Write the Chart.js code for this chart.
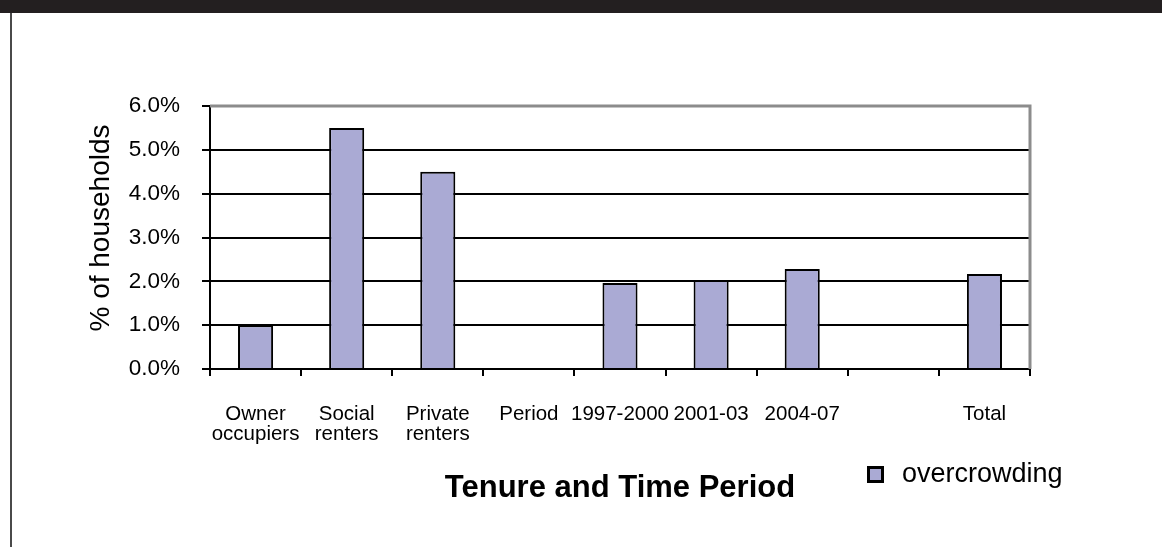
<!DOCTYPE html>
<html>
<head>
<meta charset="utf-8">
<script src="https://cdn.jsdelivr.net/npm/chart.js@4.4.1/dist/chart.umd.min.js"></script>
<style>
  html, body { margin: 0; padding: 0; background: #fff; }
  body { width: 1162px; height: 547px; position: relative; overflow: hidden; font-family: "Liberation Sans", Arial, sans-serif; color: #000; }
  #topBand { position: absolute; left: 0; top: 0; width: 1162px; height: 13px; background: #231f20; }
  #leftLine { position: absolute; left: 10px; top: 13px; width: 2px; bottom: 0; background: #4a4a4a; }
  #chartWrap { position: absolute; left: 0; top: 0; width: 1162px; height: 547px; }
  #yTitle { position: absolute; left: -50px; top: 214px; width: 300px; height: 28px; text-align: center; font-size: 28px; line-height: 28px; transform: rotate(-90deg); transform-origin: 150px 14px; white-space: nowrap; }
  #xTitle { position: absolute; left: 370px; top: 471px; width: 500px; text-align: center; font-weight: bold; font-size: 31px; line-height: 31px; white-space: nowrap; }
  #legend { position: absolute; left: 867px; top: 460px; height: 27px; }
  #legend .box { position: absolute; left: 0; top: 6px; width: 11px; height: 11px; border: 3px solid #000; background: #aaaad4; }
  #legend .txt { position: absolute; left: 35px; top: 0; font-size: 27px; line-height: 27px; white-space: nowrap; }
</style>
</head>
<body>
<div id="topBand"></div>
<div id="leftLine"></div>
<div id="chartWrap"><canvas id="myChart" width="1162" height="547"></canvas></div>
<div id="yTitle">% of households</div>
<div id="xTitle">Tenure and Time Period</div>
<div id="legend"><div class="box"></div><div class="txt">overcrowding</div></div>
<script>
  // categories (tenure groups, then time periods, then total)
  const categories = [
    ["Owner", "occupiers"], ["Social", "renters"], ["Private", "renters"],
    "Period", "1997-2000", "2001-03", "2004-07", "", "Total"
  ];
  // % of households overcrowded
  const overcrowding = [1.0, 5.5, 4.5, null, 1.96, 2.03, 2.28, null, 2.17];
  const yTicks = [0, 1, 2, 3, 4, 5, 6];

  const barColor = "#aaaad4";

  // grey border on top and right of the plot area
  const plotBorder = {
    id: "plotBorder",
    afterDraw(chart) {
      const a = chart.chartArea;
      const c = chart.ctx;
      c.save();
      c.strokeStyle = "#8c8c8c";
      c.lineWidth = 3;
      c.beginPath();
      c.moveTo(a.left, a.top);
      c.lineTo(a.right, a.top);
      c.lineTo(a.right, a.bottom);
      c.stroke();
      c.restore();
    }
  };

  const ctx = document.getElementById("myChart").getContext("2d");
  const myChart = new Chart(ctx, {
    type: "bar",
    data: {
      labels: categories,
      datasets: [{
        label: "overcrowding",
        data: overcrowding,
        backgroundColor: barColor,
        borderColor: "#000",
        borderWidth: 2,
        barPercentage: 0.385,
        categoryPercentage: 1
      }]
    },
    options: {
      responsive: false,
      animation: false,
      layout: { padding: { top: 106, right: 132, bottom: 0, left: 0 } },
      plugins: {
        legend: { display: false },
        tooltip: { enabled: false }
      },
      scales: {
        x: {
          grid: { offset: true, drawOnChartArea: false, drawTicks: true, tickLength: 7, color: "#000", lineWidth: 2 },
          border: { color: "#000", width: 2 },
          ticks: {
            color: "#000",
            padding: 29,
            maxRotation: 0,
            autoSkip: false,
            font: { family: "Liberation Sans", size: 20.5, lineHeight: 0.95 }
          },
          afterFit(scale) { scale.height = 178; }
        },
        y: {
          min: 0,
          max: 6,
          afterBuildTicks(scale) { scale.ticks = yTicks.map(v => ({ value: v })); },
          grid: {
            color: ctx => (ctx.tick && ctx.tick.value === 6 ? "#8c8c8c" : "#000"),
            lineWidth: 2,
            tickLength: 8,
            tickColor: "#000"
          },
          border: { color: "#000", width: 2 },
          ticks: {
            color: "#000",
            padding: 22,
            font: { family: "Liberation Sans", size: 22.5 },
            callback: v => v.toFixed(1) + "%"
          },
          afterFit(scale) { scale.width = 210; }
        }
      }
    },
    plugins: [plotBorder]
  });
</script>
</body>
</html>
